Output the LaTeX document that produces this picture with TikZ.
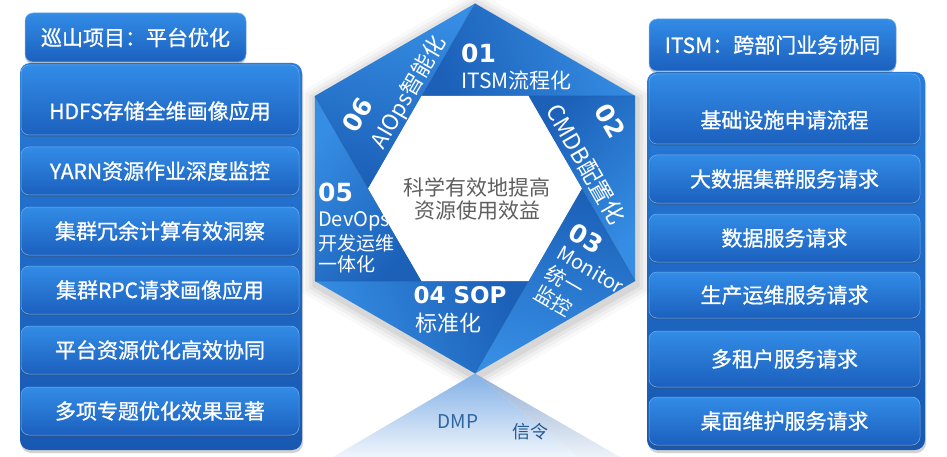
\documentclass[tikz,border=0pt]{standalone}
\usepackage{fontspec}
\setmainfont{Noto Sans CJK SC}
\newfontfamily\numfont{DejaVu Sans}
\newfontfamily\medfont{Noto Sans CJK SC}[FakeBold=0.9]
\usetikzlibrary{calc,shadows}

\definecolor{paneltop}{RGB}{40,124,218}
\definecolor{panelbot}{RGB}{24,88,178}
\definecolor{itemtop}{RGB}{50,140,230}
\definecolor{itembot}{RGB}{28,96,190}
\definecolor{hexL}{RGB}{54,142,228}
\definecolor{hexD}{RGB}{28,96,184}
\definecolor{centergray}{RGB}{95,95,95}
\definecolor{dmpblue}{RGB}{46,102,160}
\definecolor{xinblue}{RGB}{36,88,146}
\definecolor{reflL}{RGB}{130,176,230}
\definecolor{reflD}{RGB}{146,174,212}

\pgfdeclareradialshading{hexglow}{\pgfpoint{0bp}{0bp}}{color(0bp)=(white); color(33bp)=(white); color(43bp)=(black!12); color(50bp)=(black!30)}

\begin{document}
\begin{tikzpicture}[x=1pt,y=-1pt,
  panelbox/.style={rounded corners=10pt, top color=paneltop, bottom color=panelbot,
    drop shadow={shadow xshift=1pt,shadow yshift=-3pt,opacity=0.25,fill=black!70}},
  boxtext/.style={text=white, font=\medfont\fontsize{21}{23}\selectfont, inner sep=0pt},
  titlebox/.style={rounded corners=8pt, top color=itemtop, bottom color=itembot,
    draw=itemtop!70!white, line width=0.5pt, boxtext,
    drop shadow={shadow xshift=0pt,shadow yshift=-2pt,opacity=0.3,fill=black!70}},
  itembox/.style={rounded corners=8pt, top color=itemtop, bottom color=itembot,
    draw=itemtop!70!white, line width=0.5pt, boxtext,
    drop shadow={shadow xshift=0pt,shadow yshift=-2pt,opacity=0.3,fill=black!70}},
  segtxt/.style={text=white, font=\fontsize{21}{23}\selectfont, inner sep=0pt},
  segnum/.style={text=white, font=\numfont\bfseries\fontsize{25}{25}\selectfont, inner sep=0pt},
]
\useasboundingbox (0,0) rectangle (947,457);
\fill[white] (0,0) rectangle (947,457);

% ---------- left panel ----------
\path[panelbox] (20,63) rectangle (302,450);
\node[titlebox, minimum width=221pt, minimum height=49pt] (lt) at (135.5,37.5) {巡山项目：平台优化};
\node[itembox, minimum width=278pt, minimum height=70pt] (l1) at (160,100) {};
\node[boxtext] (l1t) at (160,111) {HDFS存储全维画像应用};
\node[itembox, minimum width=278pt, minimum height=48pt] (l2) at (160,171) {YARN资源作业深度监控};
\node[itembox, minimum width=278pt, minimum height=48pt] (l3) at (160,231) {集群冗余计算有效洞察};
\node[itembox, minimum width=278pt, minimum height=48pt] (l4) at (160,290) {集群RPC请求画像应用};
\node[itembox, minimum width=278pt, minimum height=48pt] (l5) at (160,350) {平台资源优化高效协同};
\node[itembox, minimum width=278pt, minimum height=48pt] (l6) at (160,411) {多项专题优化效果显著};

% ---------- right panel ----------
\path[panelbox] (647,72) rectangle (925,450);
\node[titlebox, minimum width=247pt, minimum height=52pt] (rt) at (772.5,45) {ITSM：跨部门业务协同};
\node[itembox, minimum width=271pt, minimum height=70pt] (r1) at (784.5,109) {};
\node[boxtext] (r1t) at (784.5,120) {基础设施申请流程};
\node[itembox, minimum width=271pt, minimum height=48pt] (r2) at (784.5,179) {大数据集群服务请求};
\node[itembox, minimum width=271pt, minimum height=48pt] (r3) at (784.5,238) {数据服务请求};
\node[itembox, minimum width=271pt, minimum height=46pt] (r4) at (784.5,295) {生产运维服务请求};
\node[itembox, minimum width=271pt, minimum height=56pt] (r5) at (784.5,359) {多租户服务请求};
\node[itembox, minimum width=271pt, minimum height=48pt] (r6) at (784.5,421) {桌面维护服务请求};

% ---------- hexagon ----------
\coordinate (C) at (475,188.5);
\coordinate (CS) at (476,192);
\foreach \d/\o in {16/0.025,12/0.035,8/0.045,4/0.06}{
  \fill[black,opacity=\o] ($(CS)+(30:185+\d)$) -- ($(CS)+(90:185+\d)$) -- ($(CS)+(150:185+\d)$)
    -- ($(CS)+(210:185+\d)$) -- ($(CS)+(270:185+\d)$) -- ($(CS)+(330:185+\d)$) -- cycle;
}
\coordinate (T) at (475,3.5);
\coordinate (UR) at (635.2,96);
\coordinate (LR) at (635.2,281);
\coordinate (B) at (475,373.5);
\coordinate (LL) at (314.8,281);
\coordinate (UL) at (314.8,96);
\coordinate (V0) at (581.8,188.5);
\coordinate (V60) at (528.4,96);
\coordinate (V120) at (421.6,96);
\coordinate (V180) at (368.2,188.5);
\coordinate (V240) at (421.6,281);
\coordinate (V300) at (528.4,281);

% reflection
\shade[top color=reflL, bottom color=reflL!12] (B) -- (333,457) -- (578,457) -- cycle;
\shade[top color=reflD, bottom color=reflD!15] (B) -- (578,457) -- (620,457) -- cycle;

\shade[top color=hexL, bottom color=hexD, shading angle=-71] (T) -- (UR) -- (V120) -- cycle;
\shade[top color=hexL, bottom color=hexD, shading angle=-131] (UR) -- (LR) -- (V60) -- cycle;
\shade[top color=hexL, bottom color=hexD, shading angle=169] (LR) -- (B) -- (V0) -- cycle;
\shade[top color=hexL, bottom color=hexD, shading angle=109] (B) -- (LL) -- (V300) -- cycle;
\shade[top color=hexL, bottom color=hexD, shading angle=49] (LL) -- (UL) -- (V240) -- cycle;
\shade[top color=hexL, bottom color=hexD, shading angle=-11] (UL) -- (T) -- (V180) -- cycle;
\draw[hexD!85!black, line width=0.5pt, opacity=0.5]
  (T) -- (V120) (UR) -- (V60) (LR) -- (V0) (B) -- (V300) (LL) -- (V240) (UL) -- (V180);

\shade[shading=hexglow] (V0) -- (V60) -- (V120) -- (V180) -- (V240) -- (V300) -- cycle;

\node[text=centergray, font=\fontsize{21}{23}\selectfont, align=center] (ct) at (477,198.5) {科学有效地提高\\资源使用效益};

% segment texts
\node[segnum, anchor=west] (n01) at (461,53) {01};
\node[segtxt, anchor=west] (t01) at (461,81) {ITSM流程化};
\node[segnum, rotate=-60] (n02) at (610,121) {02};
\node[segtxt, rotate=-60, font=\fontsize{23}{25}\selectfont] (t02) at (586,164) {CMDB配置化};
\node[segtxt, rotate=-30, anchor=north west, align=left, font=\fontsize{20}{23}\selectfont] (t03) at (576,221.5)
  {{\numfont\bfseries\fontsize{25}{25}\selectfont 03}\\Monitor\\统一\\监控};
\node[segnum, font=\numfont\bfseries\fontsize{23}{23}\selectfont] (n04) at (460,295) {04 SOP};
\node[segtxt, font=\fontsize{22}{24}\selectfont] (t04) at (448,323) {标准化};
\node[segnum, anchor=west] (n05) at (318,192) {05};
\node[segtxt, anchor=west, font=\fontsize{20}{22}\selectfont] (t05a) at (318,221) {DevOps};
\node[segtxt, anchor=west, font=\fontsize{19}{21}\selectfont] (t05b) at (318,243) {开发运维};
\node[segtxt, anchor=west, font=\fontsize{19}{21}\selectfont] (t05c) at (318,264) {一体化};
\node[segtxt, rotate=60, anchor=north west, align=left, font=\fontsize{22}{31}\selectfont] (t06) at (340.5,125.7)
  {{\numfont\bfseries\fontsize{25}{25}\selectfont 06}\\AIOps智能化};

% reflection labels
\node[text=dmpblue, font=\fontsize{19}{19}\selectfont, inner sep=0pt] (dmp) at (458,422) {DMP};
\node[text=xinblue, font=\fontsize{18}{18}\selectfont, inner sep=0pt] (xl) at (530,432) {信令};
\end{tikzpicture}
\end{document}
